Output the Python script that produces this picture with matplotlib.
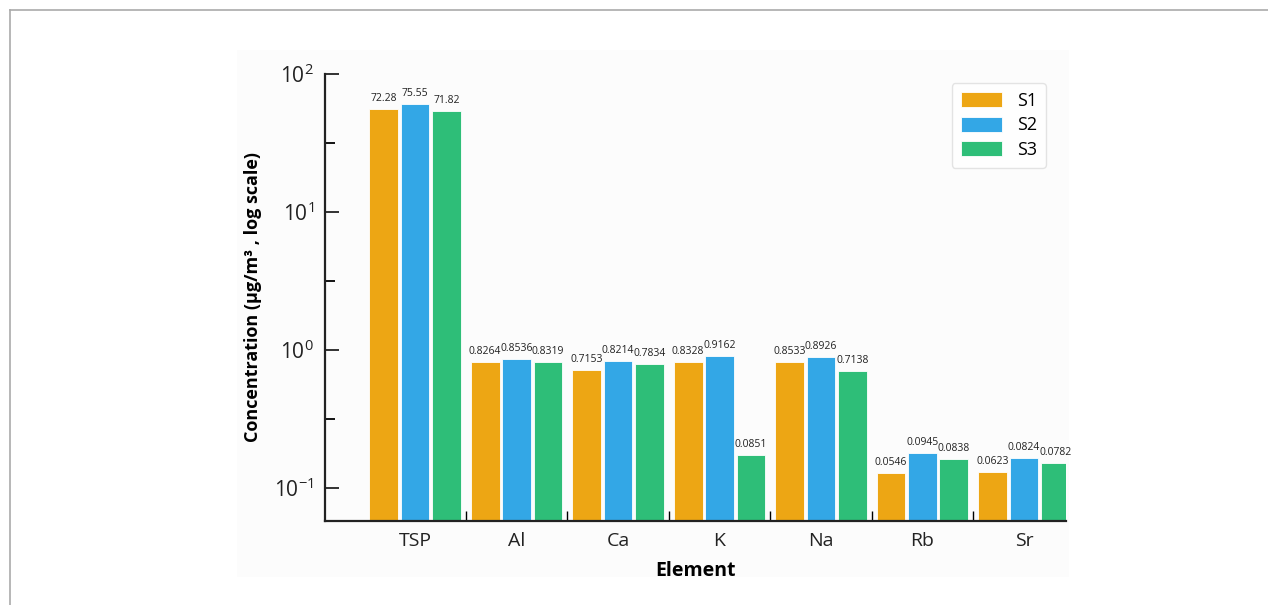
import matplotlib
matplotlib.use("Agg")
import matplotlib.pyplot as plt
import numpy as np
from matplotlib.lines import Line2D
from matplotlib.patches import Rectangle

# ---- data ----
elements = ["TSP", "Al", "Ca", "K", "Na", "Rb", "Sr"]
series_names = ["S1", "S2", "S3"]
s1_heights = [55.7, 0.819, 0.716, 0.819, 0.819, 0.128, 0.131]
s2_heights = [60.6, 0.861, 0.832, 0.905, 0.889, 0.179, 0.165]
s3_heights = [53.9, 0.819, 0.792, 0.173, 0.705, 0.162, 0.152]
# value labels printed above bars
s1_labels = ["72.28", "0.8264", "0.7153", "0.8328", "0.8533", "0.0546", "0.0623"]
s2_labels = ["75.55", "0.8536", "0.8214", "0.9162", "0.8926", "0.0945", "0.0824"]
s3_labels = ["71.82", "0.8319", "0.7834", "0.0851", "0.7138", "0.0838", "0.0782"]

colors = ["#EDA614", "#33A7E6", "#2EBE78"]

plt.rcParams["font.family"] = ["Open Sans", "DejaVu Sans"]
plt.rcParams["mathtext.fontset"] = "custom"
plt.rcParams["mathtext.rm"] = "Open Sans"
plt.rcParams["mathtext.it"] = "Open Sans"
plt.rcParams["mathtext.bf"] = "Open Sans:bold"
plt.rcParams["axes.unicode_minus"] = False

fig = plt.figure(figsize=(12.68, 6.05), dpi=100)
W, H = 1268, 605

# page frame and image background
fig.patches.append(Rectangle((237 / W, 1 - 577 / H), (1069 - 237) / W, (577 - 50) / H,
                             transform=fig.transFigure, facecolor="#FCFCFC",
                             edgecolor="none", zorder=-10))
fig.lines.append(Line2D([10 / W, 1], [1 - 10 / H, 1 - 10 / H], transform=fig.transFigure,
                        color="#AAAAAA", lw=1.2))
fig.lines.append(Line2D([10 / W, 10 / W], [0, 1 - 10 / H], transform=fig.transFigure,
                        color="#AAAAAA", lw=1.2))

ax = fig.add_axes([325 / W, 1 - 521 / H, (1066 - 325) / W, (521 - 74) / H])
ax.set_facecolor("none")

x = np.arange(len(elements))
width = 0.285
offsets = [-0.31, 0.0, 0.31]
heights = [s1_heights, s2_heights, s3_heights]
labels = [s1_labels, s2_labels, s3_labels]

for k in range(3):
    bars = ax.bar(x + offsets[k], heights[k], width, color=colors[k],
                  edgecolor="white", linewidth=0.6, label=series_names[k], zorder=2)
    for b, lab in zip(bars, labels[k]):
        ax.annotate(lab, (b.get_x() + b.get_width() / 2, b.get_height()),
                    xytext=(0, 3.5), textcoords="offset points", ha="center", va="bottom",
                    fontsize=7.5, color="#222222")

ax.set_yscale("log")
ax.set_ylim(0.0577, 100)
ax.set_xlim(-0.887, 6.414)

ax.set_yticks([0.1, 1, 10, 100])
ax.set_yticklabels([r"$10^{-1}$", r"$10^{0}$", r"$10^{1}$", r"$10^{2}$"])
ax.set_yticks([0.316, 3.16, 31.6], minor=True)
ax.yaxis.set_minor_formatter(matplotlib.ticker.NullFormatter())
ax.set_xticks(x)
ax.set_xticklabels(elements)
ax.set_xticks(x[:-1] + 0.5, minor=True)

ax.tick_params(axis="y", which="major", direction="in", length=10, width=1.3,
               labelsize=15, pad=8, colors="#222222")
ax.tick_params(axis="y", which="minor", direction="in", length=7, width=1.3)
ax.tick_params(axis="x", which="major", direction="in", length=9, width=1.3,
               labelsize=14, pad=8, colors="#222222")
ax.tick_params(axis="x", which="minor", direction="in", length=7, width=1.0)

for s in ["top", "right"]:
    ax.spines[s].set_visible(False)
for s in ["left", "bottom"]:
    ax.spines[s].set_linewidth(1.6)
    ax.spines[s].set_color("#222222")

ax.set_xlabel("Element", fontsize=14, fontweight="bold", labelpad=8)
ax.set_ylabel("Concentration (μg/m³ , log scale)", fontsize=13, fontweight="bold", labelpad=9)

leg = ax.legend(loc="upper right", bbox_to_anchor=(0.985, 1.0), fontsize=13,
                handlelength=2.3, handleheight=0.9, frameon=True, fancybox=True,
                borderpad=0.5, labelspacing=0.35, handletextpad=0.8)
leg.get_frame().set_edgecolor("#DDDDDD")
leg.get_frame().set_linewidth(1.0)

fig.savefig("out.png", dpi=100)
